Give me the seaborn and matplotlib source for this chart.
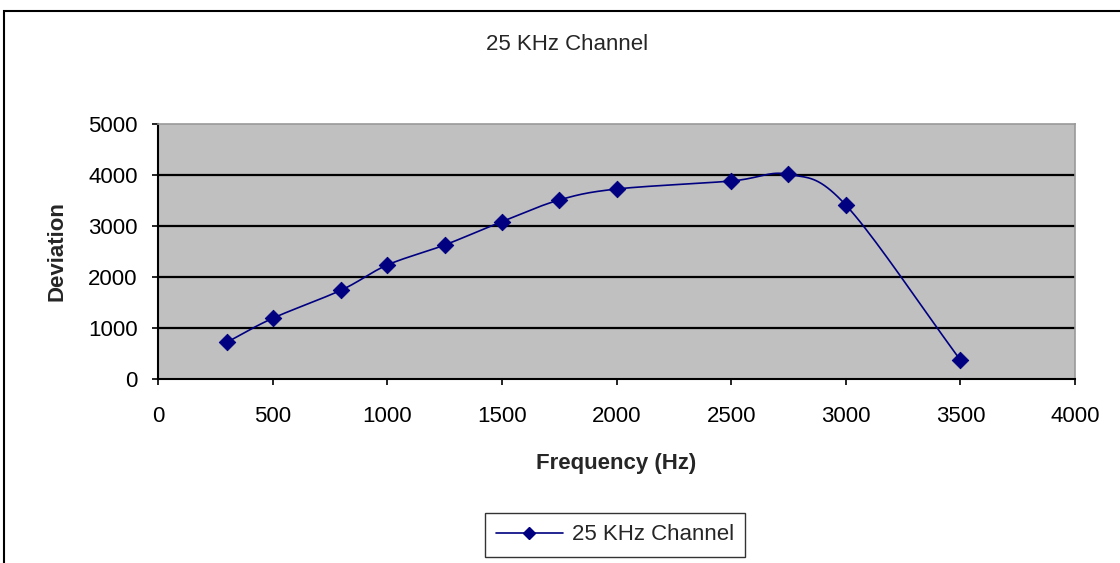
from matplotlib import pyplot as plt
from matplotlib.patches import Rectangle
import numpy as np
import pandas as pd
import seaborn as sns

frequency = [300, 500, 800, 1000, 1250, 1500, 1750, 2000, 2500, 2750, 3000, 3500]
deviation = [720, 1190, 1745, 2235, 2627, 3085, 3510, 3725, 3882, 4013, 3412, 372]
series_name = '25 KHz Channel'
x_ticks = list(range(0, 4001, 500))
y_ticks = list(range(0, 5001, 1000))

NAVY = '#000080'


def _smooth(x, y, steps=20):
    # Catmull-Rom curve through the points, like Excel's "smoothed line"
    x = np.asarray(x, float)
    y = np.asarray(y, float)
    px = np.concatenate([[2 * x[0] - x[1]], x, [2 * x[-1] - x[-2]]])
    py = np.concatenate([[2 * y[0] - y[1]], y, [2 * y[-1] - y[-2]]])
    t = np.linspace(0, 1, steps, endpoint=False)
    xs, ys = [], []
    for i in range(1, len(px) - 2):
        for p, out in ((px, xs), (py, ys)):
            p0, p1, p2, p3 = p[i - 1], p[i], p[i + 1], p[i + 2]
            out.extend(0.5 * (2 * p1 + (-p0 + p2) * t
                              + (2 * p0 - 5 * p1 + 4 * p2 - p3) * t ** 2
                              + (-p0 + 3 * p1 - 3 * p2 + p3) * t ** 3))
    xs.append(x[-1])
    ys.append(y[-1])
    return np.array(xs), np.array(ys)


sns.set_style('white')
plt.rcParams['font.family'] = ['Liberation Sans', 'DejaVu Sans']

df = pd.DataFrame({'Frequency (Hz)': frequency, 'Deviation': deviation})
sx, sy = _smooth(frequency, deviation)
curve = pd.DataFrame({'x': sx, 'y': sy})

fig = plt.figure(figsize=(11.2, 5.63), dpi=100)
ax = fig.add_axes([158 / 1120, 1 - 379 / 563, (1075 - 158) / 1120, (379 - 124) / 563])
ax.set_facecolor('#C0C0C0')

sns.lineplot(data=curve, x='x', y='y', ax=ax, color=NAVY, linewidth=1.2, sort=False)
sns.scatterplot(data=df, x='Frequency (Hz)', y='Deviation', ax=ax, color=NAVY,
                marker='D', s=70, edgecolor=NAVY, zorder=3)

for v in y_ticks[1:-1]:
    ax.axhline(v, color='black', linewidth=1.6, zorder=1)

ax.set_xlim(0, 4000)
ax.set_ylim(0, 5000)
ax.set_xticks(x_ticks)
ax.set_yticks(y_ticks)
ax.tick_params(axis='both', direction='out', length=4.5, width=1.2, color='black',
               labelsize=16, labelcolor='black', bottom=True, left=True)
ax.tick_params(axis='x', pad=15)
ax.tick_params(axis='y', pad=10)

for side in ('left', 'bottom'):
    ax.spines[side].set_color('black')
    ax.spines[side].set_linewidth(1.5)
for side in ('top', 'right'):
    ax.spines[side].set_color('#999999')
    ax.spines[side].set_linewidth(1.2)

ax.set_xlabel('Frequency (Hz)', fontsize=16, fontweight='bold', labelpad=19)
ax.set_ylabel('Deviation', fontsize=16, fontweight='bold', labelpad=15)

fig.text(567 / 1120, 1 - 44 / 563, series_name, ha='center', va='center', fontsize=16)

handle = plt.Line2D([], [], color=NAVY, linewidth=1.2, marker='D', markersize=6)
fig.legend([handle], [series_name], loc='center', bbox_to_anchor=(615 / 1120, 1 - 535 / 563),
           fontsize=16, frameon=True, fancybox=False, edgecolor='black',
           handlelength=3, handletextpad=0.4, borderpad=0.5)

fig.patches.append(Rectangle((4 / 1120, -0.1), 1.2, 1 - 11 / 563 + 0.1,
                             transform=fig.transFigure, fill=False,
                             edgecolor='black', linewidth=1.5))

fig.savefig('out.png', dpi=100)
